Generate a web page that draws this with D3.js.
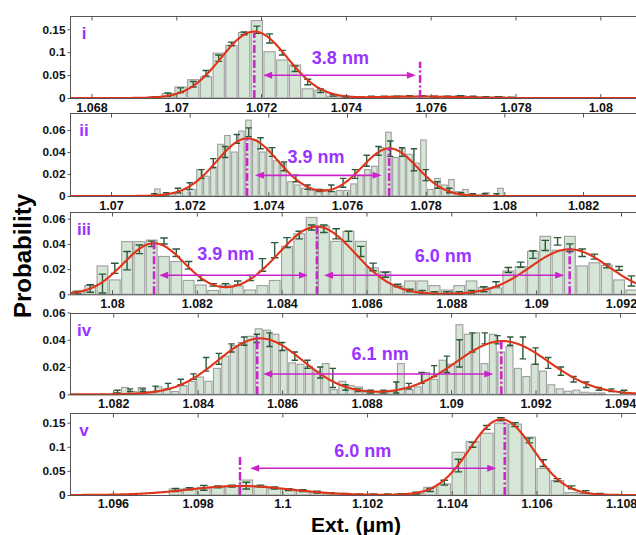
<!DOCTYPE html>
<html><head><meta charset="utf-8">
<script src="https://cdn.jsdelivr.net/npm/d3@7/dist/d3.min.js"></script>
<style>body{margin:0;background:#fff}svg{display:block}</style>
</head><body>
<svg id="c" width="636" height="535"></svg>
<script>
// ================= DATA =================
const panelNames = ["i", "ii", "iii", "iv", "v"];

const xTicks_i   = [1.068, 1.070, 1.072, 1.074, 1.076, 1.078, 1.080];
const xTicks_ii  = [1.070, 1.072, 1.074, 1.076, 1.078, 1.080, 1.082];
const xTicks_iii = [1.080, 1.082, 1.084, 1.086, 1.088, 1.090, 1.092];
const xTicks_iv  = [1.082, 1.084, 1.086, 1.088, 1.090, 1.092, 1.094];
const xTicks_v   = [1.096, 1.098, 1.100, 1.102, 1.104, 1.106, 1.108];
const yTicks_big   = [0, 0.05, 0.1, 0.15];
const yTicks_small = [0, 0.02, 0.04, 0.06];

// histogram bars (first bin start, bin width, probabilities)
const barStart_i = 1.06935, barStep_i = 0.0003;
const bars_i = [0.003, 0.010, 0.024, 0.040, 0.046, 0.098, 0.115, 0.143, 0.169, 0.101, 0.083, 0.072, 0.020, 0.017, 0.004, 0.002, 0.003, 0.002, 0.003, 0.004, 0.002, 0.004, 0.003, 0.004, 0.005, 0.003, 0.002, 0.003, 0.001];
const barStart_ii = 1.07109, barStep_ii = 0.000178;
const bars_ii = [0.0064, 0.001, 0.002, 0.003, 0.006, 0.006, 0.024, 0.018, 0.025, 0.047, 0.055, 0.040, 0.059, 0.069, 0.051, 0.040, 0.044, 0.032, 0.030, 0.013, 0.010, 0.007, 0.005, 0.006, 0.006, 0.004, 0.005, 0.005, 0.011, 0.019, 0.024, 0.027, 0.044, 0.058, 0.035, 0.043, 0.038, 0.030, 0.051, 0.006, 0.016, 0.010, 0.015, 0.004, 0.006, 0.002, 0.001, 0.003, 0.000, 0.007];
const barStart_iii = 1.07905, barStep_iii = 0.00029;
const bars_iii = [0.0026, 0.0069, 0.0225, 0.0114, 0.0418, 0.0418, 0.043, 0.030, 0.026, 0.011, 0.0074, 0.003, 0.0074, 0.0066, 0.0034, 0.0069, 0.011, 0.038, 0.048, 0.061, 0.054, 0.042, 0.050, 0.042, 0.021, 0.018, 0.0066, 0.0106, 0.0106, 0.0069, 0.0034, 0.0069, 0.0106, 0.0053, 0.005, 0.0185, 0.022, 0.034, 0.046, 0.035, 0.046, 0.0225, 0.025, 0.023, 0.0114, 0.0034];
const barStart_iv = 1.08198, barStep_iv = 0.000198;
const bars_iv = [0.001, 0.005, 0.002, 0.005, 0.002, 0.0054, 0.004, 0.002, 0.0063, 0.0095, 0.0127, 0.0095, 0.019, 0.028, 0.0357, 0.038, 0.0425, 0.048, 0.047, 0.044, 0.0327, 0.023, 0.022, 0.0205, 0.017, 0.0225, 0.0034, 0.0095, 0.0064, 0.0054, 0.003, 0.0022, 0.002, 0.002, 0.0225, 0.0034, 0.0054, 0.016, 0.011, 0.025, 0.022, 0.051, 0.044, 0.045, 0.0225, 0.044, 0.031, 0.035, 0.019, 0.013, 0.022, 0.017, 0.007, 0.004, 0.0022, 0.003, 0.0015, 0.001, 0.001];
const barStart_v = 1.09731, barStep_v = 0.000334;
const bars_v = [0.0124, 0.0138, 0.016, 0.016, 0.0187, 0.031, 0.0187, 0.0138, 0.012, 0.009, 0.006, 0.0035, 0.001, 0.001, 0.001, 0.001, 0.002, 0.003, 0.016, 0.023, 0.0885, 0.111, 0.128, 0.149, 0.147, 0.120, 0.055, 0.030, 0.005, 0.003, 0.001];

// error bars (first position, spacing, mean, half-length)
const errStart_i = 1.0695, errStep_i = 0.0003;
const errMean_i = [0.002, 0.007, 0.017, 0.030, 0.054, 0.087, 0.118, 0.141, 0.149, 0.130, 0.099, 0.064, 0.035, 0.016, 0.006, 0.003, 0.002, 0.003, 0.003, 0.003, 0.004, 0.004, 0.003, 0.003, 0.004, 0.003, 0.002, 0.002, 0.001];
const errHalf_i = [0.001, 0.004, 0.005, 0.006, 0.006, 0.007, 0.004, 0.003, 0.008, 0.010, 0.005, 0.006, 0.006, 0.004, 0.002, 0.001, 0.001, 0.001, 0.001, 0.001, 0.001, 0.001, 0.001, 0.001, 0.001, 0.001, 0.001, 0.001, 0.001];
const errStart_ii = 1.0711, errStep_ii = 0.0003;
const errMean_ii = [0.001, 0.002, 0.005, 0.009, 0.020, 0.030, 0.040, 0.052, 0.058, 0.048, 0.040, 0.027, 0.016, 0.008, 0.005, 0.007, 0.012, 0.020, 0.032, 0.041, 0.043, 0.040, 0.033, 0.019, 0.010, 0.005, 0.002, 0.001, 0.001, 0.001];
const errHalf_ii = [0.001, 0.001, 0.002, 0.003, 0.004, 0.004, 0.005, 0.004, 0.004, 0.005, 0.004, 0.004, 0.003, 0.002, 0.001, 0.003, 0.004, 0.004, 0.005, 0.004, 0.007, 0.004, 0.010, 0.005, 0.003, 0.002, 0.001, 0.001, 0.001, 0.001];
const errStart_iii = 1.079195, errStep_iii = 0.00029;
const errMean_iii = [0.0013, 0.0046, 0.0085, 0.0206, 0.0267, 0.0357, 0.040, 0.0423, 0.033, 0.023, 0.013, 0.0075, 0.007, 0.009, 0.013, 0.0233, 0.035, 0.041, 0.047, 0.053, 0.052, 0.048, 0.046, 0.034, 0.0217, 0.0155, 0.007, 0.003, 0.002, 0.001, 0.001, 0.001, 0.002, 0.004, 0.008, 0.0193, 0.0235, 0.0315, 0.0388, 0.042, 0.037, 0.033, 0.0299, 0.0225, 0.0206, 0.0106];
const errHalf_iii = [0.001, 0.003, 0.0075, 0.004, 0.0073, 0.0034, 0.0022, 0.0024, 0.003, 0.003, 0.002, 0.001, 0.0015, 0.0015, 0.002, 0.005, 0.006, 0.004, 0.003, 0.002, 0.003, 0.004, 0.004, 0.004, 0.003, 0.002, 0.001, 0.001, 0.001, 0.001, 0.001, 0.001, 0.001, 0.002, 0.002, 0.002, 0.002, 0.003, 0.004, 0.003, 0.003, 0.003, 0.002, 0.0015, 0.0015, 0.004];
const errStart_iv = 1.0821, errStep_iv = 0.0003;
const errMean_iv = [0.002, 0.003, 0.003, 0.004, 0.006, 0.009, 0.013, 0.022, 0.026, 0.034, 0.039, 0.041, 0.040, 0.035, 0.028, 0.022, 0.016, 0.012, 0.005, 0.003, 0.002, 0.002, 0.005, 0.006, 0.012, 0.017, 0.022, 0.030, 0.038, 0.041, 0.040, 0.039, 0.034, 0.028, 0.023, 0.017, 0.011, 0.007, 0.004, 0.003, 0.002];
const errHalf_iv = [0.001, 0.001, 0.001, 0.002, 0.002, 0.002, 0.002, 0.005, 0.004, 0.003, 0.003, 0.003, 0.005, 0.003, 0.003, 0.003, 0.004, 0.007, 0.002, 0.001, 0.001, 0.001, 0.004, 0.002, 0.004, 0.004, 0.006, 0.010, 0.007, 0.004, 0.003, 0.003, 0.008, 0.006, 0.004, 0.003, 0.002, 0.002, 0.001, 0.001, 0.001];
const errStart_v = 1.097477, errStep_v = 0.000334;
const errMean_v = [0.0104, 0.013, 0.015, 0.017, 0.0185, 0.0194, 0.0185, 0.0145, 0.011, 0.009, 0.006, 0.004, 0.002, 0.001, 0.001, 0.001, 0.0015, 0.004, 0.0104, 0.0255, 0.061, 0.104, 0.140, 0.157, 0.146, 0.113, 0.066, 0.031, 0.016, 0.007, 0.002];
const errHalf_v = [0.003, 0.002, 0.005, 0.002, 0.002, 0.007, 0.002, 0.002, 0.002, 0.002, 0.002, 0.001, 0.001, 0.001, 0.001, 0.001, 0.001, 0.002, 0.003, 0.005, 0.013, 0.005, 0.004, 0.003, 0.004, 0.005, 0.007, 0.003, 0.003, 0.002, 0.001];

// Gaussian fit parameters (centre, amplitude, sigma)
const fitMu_i = [1.07184, 1.0757],  fitAmp_i = [0.145, 0.0033],  fitSig_i = [0.00078, 0.0009];
const fitMu_ii = [1.07347, 1.07708], fitAmp_ii = [0.0524, 0.0433], fitSig_ii = [0.00078, 0.0007];
const fitMu_iii = [1.08099, 1.08483, 1.09079], fitAmp_iii = [0.0405, 0.0537, 0.0357], fitSig_iii = [0.00072, 0.0009, 0.00093];
const fitMu_iv = [1.08548, 1.09122], fitAmp_iv = [0.041, 0.039], fitSig_iv = [0.001, 0.0011];
const fitMu_v = [1.0990, 1.10517],  fitAmp_v = [0.0187, 0.157],  fitSig_v = [0.0012, 0.00075];

// peak markers (x, top value)
const markX_i = [1.07184, 1.07575],          markTop_i = [0.141, 0.079];
const markX_ii = [1.07346, 1.07707],         markTop_ii = [0.0527, 0.044];
const markX_iii = [1.08099, 1.08483, 1.09079], markTop_iii = [0.041, 0.0537, 0.0365];
const markX_iv = [1.08541, 1.09119],         markTop_iv = [0.042, 0.039];
const markX_v = [1.0990, 1.10525],           markTop_v = [0.083, 0.156];

// distance arrows [x1, x2, y] and their labels [text, x, y]
const arrows_i = [[1.07205, 1.07565, 0.0496]];
const notes_i = [["3.8 nm", 1.07387, 0.0742]];
const arrows_ii = [[1.07366, 1.07688, 0.0188]];
const notes_ii = [["3.9 nm", 1.07521, 0.030]];
const arrows_iii = [[1.08111, 1.08462, 0.0151], [1.08500, 1.09066, 0.0151]];
const notes_iii = [["3.9 nm", 1.08268, 0.0272], ["6.0 nm", 1.08781, 0.0259]];
const arrows_iv = [[1.08555, 1.09100, 0.0149]];
const notes_iv = [["6.1 nm", 1.08832, 0.0253]];
const arrows_v = [[1.09924, 1.10505, 0.0554]];
const notes_v = [["6.0 nm", 1.10190, 0.0795]];

const yLabel = "Probability";
const xLabel = "Ext. (\u03bcm)";

// ================= BUILD =================
const panels = [
  {bars: bars_i, bs: barStart_i, bw: barStep_i, es: errStart_i, ew: errStep_i, em: errMean_i, eh: errHalf_i, mu: fitMu_i, amp: fitAmp_i, sig: fitSig_i, mx: markX_i, mt: markTop_i, arrows: arrows_i, notes: notes_i, xt: xTicks_i, yt: yTicks_big},
  {bars: bars_ii, bs: barStart_ii, bw: barStep_ii, es: errStart_ii, ew: errStep_ii, em: errMean_ii, eh: errHalf_ii, mu: fitMu_ii, amp: fitAmp_ii, sig: fitSig_ii, mx: markX_ii, mt: markTop_ii, arrows: arrows_ii, notes: notes_ii, xt: xTicks_ii, yt: yTicks_small},
  {bars: bars_iii, bs: barStart_iii, bw: barStep_iii, es: errStart_iii, ew: errStep_iii, em: errMean_iii, eh: errHalf_iii, mu: fitMu_iii, amp: fitAmp_iii, sig: fitSig_iii, mx: markX_iii, mt: markTop_iii, arrows: arrows_iii, notes: notes_iii, xt: xTicks_iii, yt: yTicks_small},
  {bars: bars_iv, bs: barStart_iv, bw: barStep_iv, es: errStart_iv, ew: errStep_iv, em: errMean_iv, eh: errHalf_iv, mu: fitMu_iv, amp: fitAmp_iv, sig: fitSig_iv, mx: markX_iv, mt: markTop_iv, arrows: arrows_iv, notes: notes_iv, xt: xTicks_iv, yt: yTicks_small},
  {bars: bars_v, bs: barStart_v, bw: barStep_v, es: errStart_v, ew: errStep_v, em: errMean_v, eh: errHalf_v, mu: fitMu_v, amp: fitAmp_v, sig: fitSig_v, mx: markX_v, mt: markTop_v, arrows: arrows_v, notes: notes_v, xt: xTicks_v, yt: yTicks_big}
];

// layout (pixels, axis extents)
const LEFT = 71, RIGHT = 636;
const layout = [
  {top: 16,  bottom: 98,    dom: [1.067517, 1.080842], ymax: 0.179,  cap: 3.5, pad: 5},
  {top: 113, bottom: 196,   dom: [1.068983, 1.083347], ymax: 0.0755, cap: 3.2, pad: 5},
  {top: 212, bottom: 294.3, dom: [1.079033, 1.092354], ymax: 0.0653, cap: 3.8, pad: 5},
  {top: 313, bottom: 394.3, dom: [1.081000, 1.094379], ymax: 0.0596, cap: 3.2, pad: 5},
  {top: 413, bottom: 495,   dom: [1.095010, 1.108350], ymax: 0.170,  cap: 3.8, pad: 4}
];

const FONT = "Arial, 'Liberation Sans', Helvetica, sans-serif";
const PURPLE = "#9933ff", MAGENTA = "#cc22cc";
const svg = d3.select("#c");
const defs = svg.append("defs");

panels.forEach((p, k) => {
  const L = layout[k];
  const xs = d3.scaleLinear().domain(L.dom).range([LEFT, RIGHT]);
  const ys = d3.scaleLinear().domain([0, L.ymax]).range([L.bottom, L.top]);
  defs.append("clipPath").attr("id", "cp" + k).append("rect")
    .attr("x", LEFT).attr("y", L.top).attr("width", RIGHT - LEFT + 2).attr("height", L.bottom - L.top + 1.5);
  const g = svg.append("g");
  const pg = g.append("g").attr("clip-path", `url(#cp${k})`);

  // bars
  pg.append("g").selectAll("rect").data(p.bars).join("rect")
    .attr("x", (d, i) => xs(p.bs + i * p.bw) + 0.75)
    .attr("width", (d, i) => Math.max(0.5, xs(p.bs + (i + 1) * p.bw) - xs(p.bs + i * p.bw) - 1.5))
    .attr("y", d => ys(d))
    .attr("height", d => ys(0) - ys(d))
    .attr("fill", "#d6e6d6").attr("stroke", "#9e9e9e").attr("stroke-width", 1.1);

  // error bars
  const eg = pg.append("g").attr("stroke", "#2c5a3a").attr("stroke-width", 1.4).attr("fill", "none");
  p.em.forEach((m, i) => {
    const x = xs(p.es + i * p.ew);
    const y1 = ys(Math.max(0, m - p.eh[i])), y2 = ys(m + p.eh[i]);
    eg.append("path").attr("d",
      `M${x},${y1}V${y2}M${x - L.cap},${y1}H${x + L.cap}M${x - L.cap},${y2}H${x + L.cap}`);
  });

  // frame
  g.append("rect").attr("x", LEFT - 0.5).attr("y", L.top + 0.5)
    .attr("width", RIGHT - LEFT + 2).attr("height", L.bottom - L.top)
    .attr("fill", "none").attr("stroke", "#555").attr("stroke-width", 1);

  // fitted curve
  const n = 700;
  const xsamp = d3.range(n + 1).map(i => L.dom[0] + (L.dom[1] - L.dom[0]) * i / n);
  const fit = x => d3.sum(p.mu, (m, j) => p.amp[j] * Math.exp(-((x - m) ** 2) / (2 * p.sig[j] ** 2)));
  pg.append("path").datum(xsamp)
    .attr("d", d3.line().x(d => xs(d)).y(d => ys(fit(d))))
    .attr("fill", "none").attr("stroke", "#e0341a").attr("stroke-width", 2.1);

  // peak markers
  p.mx.forEach((x, i) => {
    g.append("line").attr("x1", xs(x)).attr("x2", xs(x))
      .attr("y1", ys(0)).attr("y2", ys(p.mt[i]))
      .attr("stroke", MAGENTA).attr("stroke-width", 2.5)
      .attr("stroke-dasharray", "8,2.5,2,2.5");
  });

  // arrows
  p.arrows.forEach(a => {
    const x1 = xs(a[0]), x2 = xs(a[1]), y = ys(a[2]);
    g.append("line").attr("x1", x1 + 6).attr("x2", x2 - 6).attr("y1", y).attr("y2", y)
      .attr("stroke", MAGENTA).attr("stroke-width", 1.6);
    g.append("path").attr("d", `M${x1},${y}L${x1 + 9},${y - 3.5}L${x1 + 9},${y + 3.5}Z`).attr("fill", MAGENTA);
    g.append("path").attr("d", `M${x2},${y}L${x2 - 9},${y - 3.5}L${x2 - 9},${y + 3.5}Z`).attr("fill", MAGENTA);
  });
  p.notes.forEach(t => {
    g.append("text").attr("x", xs(t[1])).attr("y", ys(t[2]))
      .attr("text-anchor", "middle").attr("font-family", FONT)
      .attr("font-weight", "bold").attr("font-size", 18).attr("fill", PURPLE).text(t[0]);
  });

  // axes
  const xfmt = d3.format(".4~r"), yfmt = d3.format("~g");
  const ax = g.append("g").attr("transform", `translate(0,${L.bottom})`)
    .call(d3.axisBottom(xs).tickValues(p.xt).tickFormat(xfmt).tickSizeInner(-4).tickSizeOuter(0).tickPadding(L.pad));
  const at = g.append("g").attr("transform", `translate(0,${L.top + 0.5})`)
    .call(d3.axisTop(xs).tickValues(p.xt).tickFormat("").tickSizeInner(-4).tickSizeOuter(0));
  const ay = g.append("g").attr("transform", `translate(${LEFT - 0.5},0)`)
    .call(d3.axisLeft(ys).tickValues(p.yt).tickFormat(yfmt).tickSizeInner(3).tickSizeOuter(0).tickPadding(2));
  [ax, at, ay].forEach(a => {
    a.select(".domain").remove();
    a.selectAll("line").attr("stroke", "#555");
  });
  ax.selectAll("text").attr("font-family", FONT).attr("font-weight", "bold").attr("font-size", 12.5).attr("fill", "#111");
  ay.selectAll("text").attr("font-family", FONT).attr("font-weight", "bold").attr("font-size", 11.8).attr("fill", "#111");

  // panel tag
  g.append("text").attr("x", 84).attr("y", L.top + 23).attr("text-anchor", "middle")
    .attr("font-family", FONT).attr("font-weight", "bold").attr("font-size", 17)
    .attr("fill", PURPLE).text(panelNames[k]);
});

// axis titles
svg.append("text").attr("transform", "translate(31,256) rotate(-90)")
  .attr("text-anchor", "middle").attr("font-family", FONT).attr("font-weight", "bold")
  .attr("font-size", 24).attr("fill", "#000").text(yLabel);
svg.append("text").attr("x", 356).attr("y", 531.5)
  .attr("text-anchor", "middle").attr("font-family", FONT).attr("font-weight", "bold")
  .attr("font-size", 21).attr("fill", "#000").text(xLabel);
</script>
</body></html>
